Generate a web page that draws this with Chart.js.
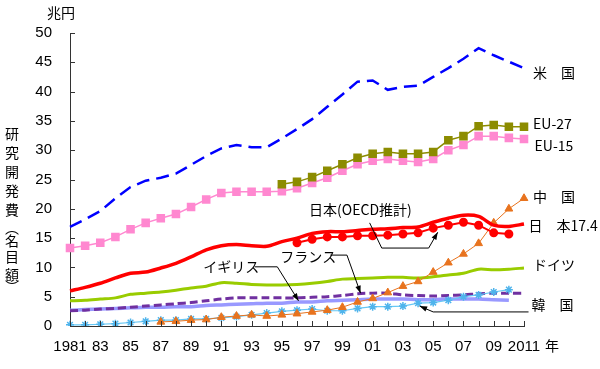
<!DOCTYPE html>
<html>
<head>
<meta charset="utf-8">
<script src="https://cdn.jsdelivr.net/npm/chart.js@4.4.1/dist/chart.umd.min.js"></script>
<style>
  html, body { margin: 0; padding: 0; background: #fff; }
  #wrap { width: 600px; height: 369px; }
</style>
</head>
<body>
<div id="wrap"><canvas id="rd-chart"></canvas></div>
<script>
// Years on the x axis
const years = [];
for (let y = 1981; y <= 2011; y++) years.push(y);

// Tick labels shown under the x axis (blank = tick only)
const xTickLabels = ['1981', '', '83', '', '85', '', '87', '', '89', '', '91', '', '93', '', '95', '', '97', '', '99', '',
    '01', '', '03', '', '05', '', '07', '', '09', '', '2011'];
const yTicks = [0, 5, 10, 15, 20, 25, 30, 35, 40, 45, 50];

// R&D expenditure, trillion yen (nominal), 1981..2011
const usa = [16.9, 18.2, 19.6, 21.8, 23.7, 24.8, 25.3, 26.0, 27.5, 29.0, 30.3, 30.9, 30.5, 30.5, 32.0, 33.6,
    35.3, 37.4, 39.5, 41.7, 41.9, 40.3, 40.8, 41.0, 42.5, 44.0, 45.6, 47.4, 46.2, 45.1, 44.0];
const eu27 = [null, null, null, null, null, null, null, null, null, null, null, null, null, null, 24.2, 24.6,
    25.4, 26.5, 27.6, 28.7, 29.4, 29.7, 29.4, 29.4, 29.7, 31.7, 32.4, 34.1, 34.3, 34.0, 34.0];
const eu15 = [13.3, 13.7, 14.2, 15.2, 16.5, 17.6, 18.4, 19.1, 20.3, 21.6, 22.7, 22.9, 22.9, 22.9, 23.0, 23.5,
    24.4, 25.3, 26.5, 27.6, 28.2, 28.5, 28.2, 28.0, 28.5, 30.0, 30.9, 32.4, 32.4, 32.1, 31.9];
const japan = [6.0, 6.6, 7.3, 8.2, 9.0, 9.2, 9.9, 10.7, 11.8, 13.0, 13.7, 13.9, 13.7, 13.6, 14.4, 15.0,
    15.8, 16.1, 16.1, 16.3, 16.5, 16.6, 16.8, 16.9, 17.7, 18.4, 18.9, 18.7, 17.2, 17.0, 17.4];
const japanOecd = [null, null, null, null, null, null, null, null, null, null, null, null, null, null, null, 14.2,
    14.8, 15.2, 15.2, 15.4, 15.4, 15.5, 15.7, 15.9, 16.7, 17.2, 17.7, 17.2, 15.9, 15.7, null];
const china = [null, null, null, null, null, null, 0.7, 0.8, 1.0, 1.1, 1.5, 1.7, 1.9, 1.7, 1.9, 2.1,
    2.4, 2.7, 3.2, 4.1, 4.7, 5.7, 6.8, 7.6, 9.2, 10.8, 12.3, 14.1, 17.6, 20.0, 21.8];
const germany = [4.3, 4.4, 4.6, 4.8, 5.4, 5.6, 5.8, 6.1, 6.5, 6.8, 7.4, 7.3, 7.1, 7.0, 7.0, 7.1,
    7.3, 7.6, 8.0, 8.1, 8.2, 8.3, 8.3, 8.2, 8.4, 8.7, 9.0, 9.7, 9.6, 9.7, 9.9];
const france = [2.6, 2.7, 2.9, 3.0, 3.2, 3.4, 3.6, 3.8, 4.0, 4.3, 4.6, 4.8, 4.8, 4.8, 4.8, 4.8,
    4.9, 5.0, 5.2, 5.5, 5.6, 5.6, 5.3, 5.2, 5.1, 5.2, 5.3, 5.5, 5.6, 5.6, 5.6];
const uk = [2.7, 2.8, 2.9, 3.0, 3.1, 3.2, 3.2, 3.3, 3.3, 3.5, 3.6, 3.7, 3.8, 3.9, 3.9, 4.1,
    4.1, 4.3, 4.4, 4.5, 4.6, 4.6, 4.6, 4.5, 4.5, 4.6, 4.6, 4.6, 4.5, 4.4, null];
const korea = [0.2, 0.2, 0.3, 0.4, 0.6, 0.8, 1.0, 1.0, 1.2, 1.2, 1.4, 1.6, 1.9, 2.2, 2.5, 2.7,
    2.9, 2.6, 2.6, 3.0, 3.3, 3.3, 3.4, 3.9, 4.0, 4.4, 5.0, 5.3, 5.8, 6.2, null];

const JP_FONT = '"Noto Sans CJK JP", sans-serif';
const NUM_FONT = '"Liberation Sans", Arial, sans-serif';

// Series names placed as text next to the lines (year, value = anchor in data units)
const seriesLabels = [
    { text: '米　国', year: 2011.6, value: 43.3 },
    { text: 'EU-27', year: 2011.6, value: 34.5 },
    { text: 'EU-15', year: 2011.7, value: 30.7 },
    { text: '中　国', year: 2011.6, value: 22.0 },
    { text: '日　本17.4', year: 2011.3, value: 17.1 },
    { text: 'ドイツ', year: 2011.6, value: 10.4 },
    { text: '韓　国', year: 2011.5, value: 3.6 },
    { text: '日本(OECD推計)', year: 1996.8, value: 19.8 },
    { text: 'イギリス', year: 1989.8, value: 10.2 },
    { text: 'フランス', year: 1994.9, value: 11.9 }
];

// Leader lines: points in (year, value), last one gets an arrow head
const leaders = [
    [[2000.8, 17.6], [2001.6, 13.3], [2004.7, 13.3], [2005.3, 16.0]],
    [[1993.2, 10.1], [1994.7, 10.1], [1996.1, 4.3]],
    [[1998.2, 12.1], [1999.3, 12.1], [2000.2, 5.6]],
    [[2011.3, 2.4], [2005.0, 2.4], [2004.1, 3.4]]
];

const yTitleChars = ['研', '究', '開', '発', '費', '︵', '名', '目', '額', '︶'];
const yTitleRows = [134, 153, 172, 191, 210, 228, 241, 257, 275, 287];

function yearPx(scale, year) {
    const i0 = Math.floor(year) - years[0];
    const a = scale.getPixelForValue(i0);
    const b = scale.getPixelForValue(i0 + 1);
    return a + (b - a) * (year - Math.floor(year));
}

const decorPlugin = {
    id: 'decor',
    afterDraw(chart) {
        const ctx = chart.ctx;
        const xs = chart.scales.x;
        const ys = chart.scales.y;
        const area = chart.chartArea;
        ctx.save();

        // inward tick marks
        ctx.strokeStyle = '#333';
        ctx.lineWidth = 1;
        ctx.beginPath();
        years.forEach((yr, i) => {
            const px = Math.round(xs.getPixelForValue(i)) + 0.5;
            ctx.moveTo(px, area.bottom);
            ctx.lineTo(px, area.bottom - 5);
        });
        yTicks.forEach(v => {
            const py = Math.round(ys.getPixelForValue(v)) + 0.5;
            ctx.moveTo(area.left, py);
            ctx.lineTo(area.left + 5, py);
        });
        ctx.stroke();

        // leader lines with arrows
        ctx.strokeStyle = '#000';
        ctx.fillStyle = '#000';
        leaders.forEach(pts => {
            const p = pts.map(([yr, v]) => [yearPx(xs, yr), ys.getPixelForValue(v)]);
            ctx.beginPath();
            ctx.moveTo(p[0][0], p[0][1]);
            for (let k = 1; k < p.length; k++) ctx.lineTo(p[k][0], p[k][1]);
            ctx.stroke();
            const [x1, y1] = p[p.length - 2];
            const [x2, y2] = p[p.length - 1];
            const ang = Math.atan2(y2 - y1, x2 - x1);
            ctx.beginPath();
            ctx.moveTo(x2, y2);
            ctx.lineTo(x2 - 8 * Math.cos(ang - 0.35), y2 - 8 * Math.sin(ang - 0.35));
            ctx.lineTo(x2 - 8 * Math.cos(ang + 0.35), y2 - 8 * Math.sin(ang + 0.35));
            ctx.closePath();
            ctx.fill();
        });

        // series name labels
        ctx.fillStyle = '#000';
        ctx.font = '14px ' + JP_FONT;
        ctx.textBaseline = 'middle';
        ctx.textAlign = 'left';
        seriesLabels.forEach(l => {
            ctx.fillText(l.text, yearPx(xs, l.year), ys.getPixelForValue(l.value));
        });

        // unit and axis titles
        ctx.textAlign = 'center';
        ctx.fillText('兆円', area.left - 9, area.top - 20);
        ctx.fillText('年', area.right + 28, area.bottom + 20);
        yTitleChars.forEach((c, i) => {
            ctx.fillText(c, 12, yTitleRows[i]);
        });
        ctx.restore();
    }
};

function createChart() {
    const ctx = document.getElementById('rd-chart').getContext('2d');
    const thin = { pointRadius: 0, pointHoverRadius: 0, fill: false };

    window.rdChart = new Chart(ctx, {
        type: 'line',
        data: {
            labels: years,
            datasets: [
                { label: '日本(OECD推計)', data: japanOecd, borderColor: '#FF0000', backgroundColor: '#FF0000',
                  borderWidth: 2, pointStyle: 'circle', pointRadius: 3.5, tension: 0 },
                { label: '日本', data: japan, borderColor: '#FF0000', borderWidth: 3.5, ...thin, tension: 0.3 },
                { label: '中国', data: china, borderColor: '#E8731E', backgroundColor: '#E8731E',
                  borderWidth: 1, pointStyle: 'triangle', pointRadius: 4.5, tension: 0 },
                { label: '韓国', data: korea, borderColor: '#66C8F5', backgroundColor: '#66C8F5',
                  pointBorderColor: '#4FB4EC', borderWidth: 1.2, pointBorderWidth: 1.5,
                  pointStyle: 'star', pointRadius: 4, tension: 0 },
                { label: 'EU-27', data: eu27, borderColor: '#8C8C00', backgroundColor: '#8C8C00',
                  borderWidth: 1.5, pointStyle: 'rect', pointRadius: 5, tension: 0 },
                { label: 'EU-15', data: eu15, borderColor: '#FF88D0', backgroundColor: '#FF88D0',
                  borderWidth: 1.5, pointStyle: 'rect', pointRadius: 5, tension: 0 },
                { label: '米国', data: usa, borderColor: '#0000FF', borderWidth: 2.5,
                  borderDash: [13, 7], ...thin, tension: 0 },
                { label: 'フランス', data: france, borderColor: '#7030A0', borderWidth: 3,
                  borderDash: [8, 4], ...thin, tension: 0.3 },
                { label: 'ドイツ', data: germany, borderColor: '#99CC00', borderWidth: 3, ...thin, tension: 0.3 },
                { label: 'イギリス', data: uk, borderColor: '#9999FF', borderWidth: 3.5, ...thin, tension: 0.3 }
            ]
        },
        options: {
            responsive: true,
            maintainAspectRatio: false,
            animation: false,
            layout: { padding: { top: 33, right: 76, left: 0, bottom: 0 } },
            plugins: {
                legend: { display: false },
                tooltip: { enabled: false }
            },
            scales: {
                x: {
                    type: 'category',
                    offset: false,
                    grid: { display: false, drawTicks: false },
                    border: { display: true, color: '#333', width: 1 },
                    afterFit: s => { s.height = 43; },
                    ticks: {
                        autoSkip: false,
                        maxRotation: 0,
                        padding: 12,
                        color: '#000',
                        font: { family: NUM_FONT, size: 15 },
                        callback: (v, i) => xTickLabels[i]
                    }
                },
                y: {
                    min: 0,
                    max: 50,
                    grid: { display: false, drawTicks: false },
                    border: { display: true, color: '#333', width: 1 },
                    afterFit: s => { s.width = 70; },
                    ticks: {
                        stepSize: 5,
                        padding: 18,
                        color: '#000',
                        font: { family: NUM_FONT, size: 15 }
                    }
                }
            }
        },
        plugins: [decorPlugin]
    });
}

document.addEventListener('DOMContentLoaded', createChart);
</script>
</body>
</html>
